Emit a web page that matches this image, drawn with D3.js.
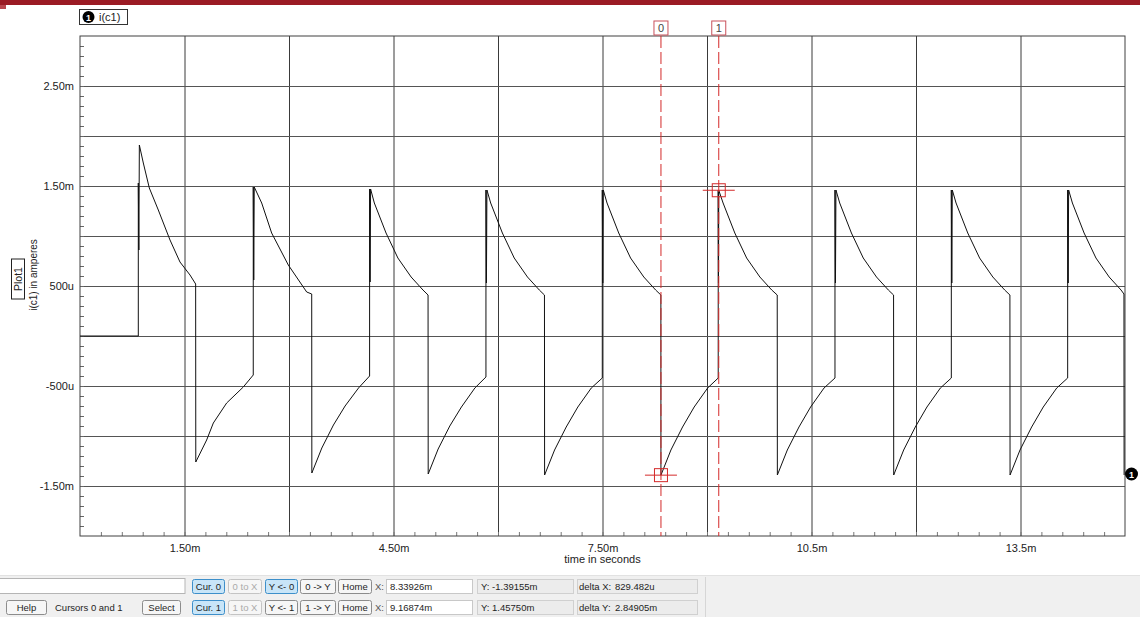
<!DOCTYPE html>
<html>
<head>
<meta charset="utf-8">
<script src="https://cdn.jsdelivr.net/npm/d3@7"></script>
<style>
  html, body { margin: 0; padding: 0; background: #fff; }
  svg { display: block; font-family: "Liberation Sans", Arial, sans-serif; }
</style>
</head>
<body>
<svg id="chart" width="1140" height="617"></svg>
<script>
// Trace i(c1): [time in ms, current in mA]
const traceIc1 = [
  [0, 0], [0.837, 0],
  [0.837, 1.53], [0.845, 0.86], [0.852, 1.91],
  [0.909, 1.73], [0.995, 1.48], [1.124, 1.26], [1.292, 0.96], [1.435, 0.74], [1.579, 0.61], [1.660, 0.52],
  [1.662, -1.26],
  [1.818, -1.04], [1.914, -0.87], [2.105, -0.67], [2.344, -0.51], [2.487, -0.39],
  [2.487, 1.49], [2.494, 0.56], [2.501, 1.49],
  [2.608, 1.33], [2.751, 1.03], [2.990, 0.71], [3.254, 0.44], [3.326, 0.42],
  [3.328, -1.37],
  [3.471, -1.12], [3.638, -0.89], [3.805, -0.70], [3.998, -0.52], [4.157, -0.40],
  [4.157, 1.47], [4.164, 0.54], [4.171, 1.47],
  [4.225, 1.33], [4.393, 1.03], [4.563, 0.78], [4.753, 0.59], [4.923, 0.46], [4.996, 0.41],
  [4.998, -1.38],
  [5.141, -1.13], [5.308, -0.90], [5.475, -0.71], [5.668, -0.52], [5.827, -0.41],
  [5.827, 1.46], [5.834, 0.53], [5.841, 1.46],
  [5.895, 1.33], [6.063, 1.03], [6.233, 0.78], [6.423, 0.59], [6.593, 0.46], [6.667, 0.41],
  [6.669, -1.39],
  [6.812, -1.14], [6.979, -0.91], [7.146, -0.71], [7.339, -0.52], [7.497, -0.42],
  [7.497, 1.46], [7.504, 0.53], [7.511, 1.46],
  [7.565, 1.33], [7.733, 1.03], [7.903, 0.78], [8.093, 0.59], [8.263, 0.46], [8.338, 0.41],
  [8.339, -1.3916],
  [8.482, -1.14], [8.649, -0.91], [8.816, -0.71], [9.009, -0.52], [9.161, -0.42],
  [9.161, 1.4575], [9.165, 0.53], [9.1687, 1.4575],
  [9.231, 1.33], [9.399, 1.03], [9.569, 0.78], [9.759, 0.59], [9.929, 0.46], [10.008, 0.41],
  [10.010, -1.39],
  [10.153, -1.14], [10.320, -0.91], [10.487, -0.71], [10.680, -0.52], [10.837, -0.42],
  [10.837, 1.46], [10.844, 0.53], [10.851, 1.46],
  [10.905, 1.33], [11.073, 1.03], [11.243, 0.78], [11.433, 0.59], [11.603, 0.46], [11.678, 0.41],
  [11.680, -1.39],
  [11.823, -1.14], [11.990, -0.91], [12.157, -0.71], [12.350, -0.52], [12.507, -0.42],
  [12.507, 1.46], [12.514, 0.53], [12.521, 1.46],
  [12.575, 1.33], [12.743, 1.03], [12.913, 0.78], [13.103, 0.59], [13.273, 0.46], [13.348, 0.41],
  [13.350, -1.39],
  [13.493, -1.14], [13.660, -0.91], [13.827, -0.71], [14.020, -0.52], [14.177, -0.42],
  [14.177, 1.46], [14.184, 0.53], [14.191, 1.46],
  [14.245, 1.33], [14.413, 1.03], [14.583, 0.78], [14.773, 0.59], [14.943, 0.46], [14.985, 0.42],
  [14.987, -1.39]
];

// Axes (ms / mA)
const timeDomain = [0, 15];
const currentDomain = [-2, 3];
const xGridTimes = [1.5, 3, 4.5, 6, 7.5, 9, 10.5, 12, 13.5];
const xTickTimes = [1.5, 4.5, 7.5, 10.5, 13.5];
const xTickLabels = ["1.50m", "4.50m", "7.50m", "10.5m", "13.5m"];
const yGridCurrents = [2.5, 2, 1.5, 1, 0.5, 0, -0.5, -1, -1.5];
const yTickCurrents = [2.5, 1.5, 0.5, -0.5, -1.5];
const yTickLabels = ["2.50m", "1.50m", "500u", "-500u", "-1.50m"];

// Cursors
const cursorIds = ["0", "1"];
const cursorTimes = [8.33926, 9.16874];
const cursorCurrents = [-1.39155, 1.45750];
const cursorXText = ["8.33926m", "9.16874m"];
const cursorYText = ["-1.39155m", "1.45750m"];
const deltaLabels = ["delta X:", "delta Y:"];
const deltaText = ["829.482u", "2.84905m"];

const svg = d3.select("#chart");
const plotLeft = 80, plotRight = 1125, plotTop = 36, plotBottom = 536;
const plotW = plotRight - plotLeft, plotH = plotBottom - plotTop;

const x = d3.scaleLinear().domain(timeDomain).range([plotLeft, plotRight]);
const y = d3.scaleLinear().domain(currentDomain).range([plotBottom, plotTop]);

// Title bar strip
svg.append("rect").attr("x", 0).attr("y", 0).attr("width", 1140).attr("height", 5).attr("fill", "#9b1b24");
svg.append("rect").attr("x", 0).attr("y", 5).attr("width", 6).attr("height", 4).attr("fill", "#b8474e");

// Grid
const grid = svg.append("g").attr("class", "grid");
grid.append("g")
  .attr("transform", `translate(0,${plotBottom})`)
  .call(d3.axisBottom(x).tickValues(xGridTimes).tickSize(-plotH).tickFormat(""))
  .call(g => g.select(".domain").remove())
  .call(g => g.selectAll("line").attr("stroke", "#3a3a3a").attr("stroke-width", 1));
grid.append("g")
  .attr("transform", `translate(${plotLeft},0)`)
  .call(d3.axisLeft(y).tickValues(yGridCurrents).tickSize(-plotW).tickFormat(""))
  .call(g => g.select(".domain").remove())
  .call(g => g.selectAll("line").attr("stroke", "#555").attr("stroke-width", 1));

// Minor ticks
const minorY = d3.range(-1.9, 3.0, 0.1).map(v => Math.round(v * 10) / 10);
svg.append("g")
  .attr("transform", `translate(${plotLeft},0)`)
  .call(d3.axisLeft(y).tickValues(minorY).tickSize(-4).tickFormat(""))
  .call(g => g.select(".domain").remove())
  .call(g => g.selectAll("line").attr("stroke", "#666"));
const minorX = d3.range(0.3, 15, 0.3).map(v => Math.round(v * 10) / 10);
svg.append("g")
  .attr("transform", `translate(0,${plotBottom})`)
  .call(d3.axisBottom(x).tickValues(minorX).tickSize(-4).tickFormat(""))
  .call(g => g.select(".domain").remove())
  .call(g => g.selectAll("line").attr("stroke", "#777"));

// Frame
svg.append("rect").attr("x", plotLeft).attr("y", plotTop).attr("width", plotW).attr("height", plotH)
  .attr("fill", "none").attr("stroke", "#404040").attr("stroke-width", 1);

// Tick labels
svg.append("g")
  .attr("transform", `translate(0,${plotBottom})`)
  .call(d3.axisBottom(x).tickValues(xTickTimes).tickSize(0).tickPadding(8)
    .tickFormat((d, i) => xTickLabels[i]))
  .call(g => g.select(".domain").remove())
  .call(g => g.selectAll("text").attr("font-size", 11).attr("fill", "#222")
    .attr("font-family", "Liberation Sans, Arial, sans-serif"));
svg.append("g")
  .attr("transform", `translate(${plotLeft},0)`)
  .call(d3.axisLeft(y).tickValues(yTickCurrents).tickSize(0).tickPadding(6)
    .tickFormat((d, i) => yTickLabels[i]))
  .call(g => g.select(".domain").remove())
  .call(g => g.selectAll("text").attr("font-size", 11).attr("fill", "#222")
    .attr("font-family", "Liberation Sans, Arial, sans-serif"));

svg.append("text").attr("x", x(7.5)).attr("y", 563).attr("text-anchor", "middle")
  .attr("font-size", 11).attr("fill", "#222").text("time in seconds");

// Y axis title
const yt = svg.append("g").attr("transform", "translate(18,279) rotate(-90)");
yt.append("rect").attr("x", -20).attr("y", -6.5).attr("width", 40).attr("height", 13)
  .attr("fill", "#fff").attr("stroke", "#222");
yt.append("text").attr("x", 0).attr("y", 3.5).attr("text-anchor", "middle")
  .attr("font-size", 10.5).attr("fill", "#222").text("Plot1");
svg.append("text").attr("transform", "translate(37,275) rotate(-90)")
  .attr("text-anchor", "middle").attr("font-size", 10).attr("fill", "#222").text("i(c1) in amperes");

// Legend
svg.append("rect").attr("x", 79.5).attr("y", 9.5).attr("width", 48).attr("height", 15)
  .attr("fill", "#fff").attr("stroke", "#333");
svg.append("circle").attr("cx", 88.5).attr("cy", 17).attr("r", 6).attr("fill", "#000");
svg.append("text").attr("x", 88.5).attr("y", 20.5).attr("text-anchor", "middle")
  .attr("font-size", 9).attr("font-weight", "bold").attr("fill", "#fff").text("1");
svg.append("text").attr("x", 99).attr("y", 21).attr("font-size", 11).attr("fill", "#222").text("i(c1)");

// Trace
const line = d3.line().x(d => x(d[0])).y(d => y(d[1]));
svg.append("path").datum(traceIc1).attr("d", line)
  .attr("fill", "none").attr("stroke", "#111").attr("stroke-width", 1).attr("stroke-linejoin", "round");

// End-of-trace marker
const lastPt = traceIc1[traceIc1.length - 1];
svg.append("circle").attr("cx", plotRight + 6.5).attr("cy", y(lastPt[1]) - 1).attr("r", 6.5).attr("fill", "#000");
svg.append("text").attr("x", plotRight + 6.5).attr("y", y(lastPt[1]) + 2.5).attr("text-anchor", "middle")
  .attr("font-size", 9).attr("font-weight", "bold").attr("fill", "#fff").text("1");

// Cursors
const cursorColor = "#d42a2a";
cursorIds.forEach((id, i) => {
  const cx = x(cursorTimes[i]), cy = y(cursorCurrents[i]);
  svg.append("line").attr("x1", cx).attr("x2", cx).attr("y1", plotTop).attr("y2", plotBottom)
    .attr("stroke", cursorColor).attr("stroke-width", 1).attr("stroke-dasharray", "12,4");
  svg.append("rect").attr("x", cx - 7).attr("y", 21).attr("width", 14).attr("height", 14)
    .attr("fill", "#fff").attr("stroke", "#c9505a");
  svg.append("text").attr("x", cx).attr("y", 32).attr("text-anchor", "middle")
    .attr("font-size", 11).attr("fill", "#444").text(id);
  svg.append("line").attr("x1", cx - 16).attr("x2", cx + 16).attr("y1", cy).attr("y2", cy)
    .attr("stroke", cursorColor);
  svg.append("rect").attr("x", cx - 6.5).attr("y", cy - 6.5).attr("width", 13).attr("height", 13)
    .attr("fill", "none").attr("stroke", cursorColor);
});

// Cursor toolbar
const tb = svg.append("g").attr("font-size", 9.5).attr("style", "white-space: pre");
tb.append("rect").attr("x", 0).attr("y", 575).attr("width", 1140).attr("height", 42).attr("fill", "#f0f0f0");
tb.append("line").attr("x1", 0).attr("x2", 1140).attr("y1", 575.5).attr("y2", 575.5).attr("stroke", "#e2e2e2");
tb.append("rect").attr("x", -1).attr("y", 578.5).attr("width", 186).attr("height", 15)
  .attr("fill", "#fff").attr("stroke", "#b5b5b5");

function button(x0, y0, w, label, style) {
  const fill = style === "on" ? "#c8e5f8" : "#f6f6f6";
  const stroke = style === "on" ? "#3d8fca" : (style === "off" ? "#c4c4c4" : "#8c8c8c");
  const color = style === "off" ? "#aaa" : "#1e1e1e";
  tb.append("rect").attr("x", x0 + 0.5).attr("y", y0 + 0.5).attr("width", w).attr("height", 14)
    .attr("rx", 2).attr("fill", fill).attr("stroke", stroke);
  tb.append("text").attr("x", x0 + w / 2 + 0.5).attr("y", y0 + 11).attr("text-anchor", "middle")
    .attr("fill", color).text(label);
}
const rowY = [579, 600];
button(192, rowY[0], 32, "Cur. 0", "on");
button(228, rowY[0], 33, "0 to X", "off");
button(265, rowY[0], 32, "Y <- 0", "on");
button(300, rowY[0], 35, "0 -> Y", "");
button(338, rowY[0], 33, "Home", "");
button(6, rowY[1], 40, "Help", "");
tb.append("text").attr("x", 55).attr("y", rowY[1] + 11).attr("fill", "#1e1e1e").text("Cursors  0  and  1");
button(142, rowY[1], 38, "Select", "");
button(192, rowY[1], 32, "Cur. 1", "on");
button(228, rowY[1], 33, "1 to X", "off");
button(265, rowY[1], 32, "Y <- 1", "");
button(300, rowY[1], 35, "1 -> Y", "");
button(338, rowY[1], 33, "Home", "");

cursorIds.forEach((id, i) => {
  const y0 = rowY[i];
  tb.append("text").attr("x", 375).attr("y", y0 + 11).attr("fill", "#555").text("X:");
  tb.append("rect").attr("x", 386.5).attr("y", y0 + 0.5).attr("width", 86).attr("height", 14)
    .attr("fill", "#fff").attr("stroke", "#c8c8c8");
  tb.append("text").attr("x", 390).attr("y", y0 + 11).attr("fill", "#1e1e1e").text(cursorXText[i]);
  tb.append("rect").attr("x", 477.5).attr("y", y0 + 0.5).attr("width", 96).attr("height", 14)
    .attr("fill", "#ececec").attr("stroke", "#d0d0d0");
  tb.append("text").attr("x", 481).attr("y", y0 + 11).attr("fill", "#1e1e1e")
    .text("Y:  " + cursorYText[i]);
  tb.append("rect").attr("x", 577.5).attr("y", y0 + 0.5).attr("width", 120).attr("height", 14)
    .attr("fill", "#ececec").attr("stroke", "#d0d0d0");
  tb.append("text").attr("x", 579).attr("y", y0 + 11).attr("fill", "#1e1e1e").text(deltaLabels[i]);
  tb.append("text").attr("x", 615).attr("y", y0 + 11).attr("fill", "#1e1e1e").text(deltaText[i]);
});
tb.append("line").attr("x1", 705.5).attr("x2", 705.5).attr("y1", 577).attr("y2", 617).attr("stroke", "#d6d6d6");
</script>
</body>
</html>
